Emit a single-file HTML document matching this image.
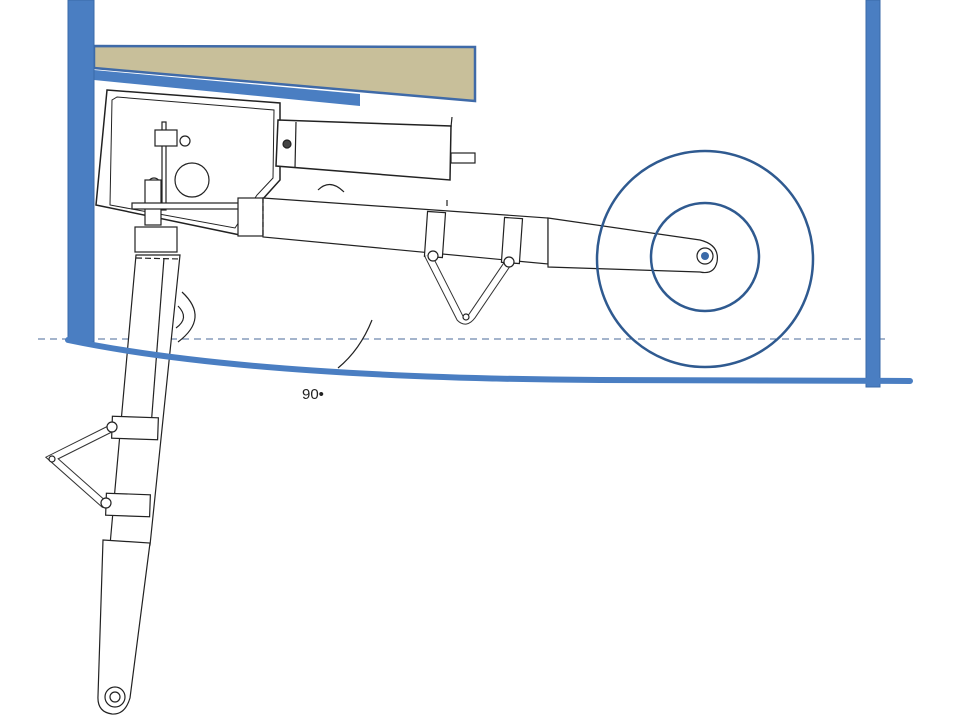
<!DOCTYPE html>
<html><head><meta charset="utf-8"><style>html,body{margin:0;padding:0;background:#fff}svg{display:block}</style></head>
<body>
<svg width="960" height="720" viewBox="0 0 960 720" xmlns="http://www.w3.org/2000/svg">
<g fill="none" stroke="#222" stroke-width="1.2">
<!-- tan plank -->
<polygon points="94,46 475,47 475,101 94,68" fill="#c8bf9a" stroke="#3f6aa8" stroke-width="2.5"/>
<polygon points="94,70 360,94 360,106 94,80" fill="#4a7ec2" stroke="none"/>
<!-- dashed line -->
<line x1="38" y1="339" x2="885" y2="339" stroke="#4a6a9a" stroke-width="1" stroke-dasharray="7,5"/>
<!-- box housing -->
<polygon points="107,90 280,103 280,180 262,200 240,235 96,205" fill="#fff" stroke-width="1.5"/>
<path d="M117,97 L274,110 L273,178 L257,195 L235,228 L110,205 L112,100 Z" stroke-width="1"/>
<circle cx="192" cy="180" r="17"/>
<!-- actuator cylinder -->
<polygon points="278,120 451,126 450,180 276,166" fill="#fff" stroke-width="1.5"/>
<line x1="296" y1="122" x2="295" y2="168"/>
<circle cx="287" cy="144" r="4" fill="#444"/>
<rect x="451" y="153" width="24" height="10"/>
<line x1="452" y1="117" x2="451" y2="127"/>
<path d="M318,190 Q330,178 344,192"/>
<!-- linkage in box -->
<rect x="162" y="122" width="4" height="88"/>
<rect x="155" y="130" width="22" height="16" fill="#fff"/>
<circle cx="185" cy="141" r="5" fill="#fff"/>
<circle cx="154" cy="184" r="6" fill="#fff"/>
<rect x="145" y="180" width="16" height="45" fill="#fff"/>
<rect x="132" y="203" width="118" height="6" fill="#fff"/>
<rect x="238" y="198" width="25" height="38" fill="#fff"/>
<rect x="135" y="227" width="42" height="25" fill="#fff"/>
<!-- horizontal strut -->
<polygon points="263,198 548,218 548,264 263,237" fill="#fff"/>
<line x1="263" y1="198" x2="263" y2="238" stroke-dasharray="5,3"/>
<line x1="447" y1="200" x2="447" y2="206"/>
<rect x="426" y="212" width="18" height="45" transform="rotate(4 435 234)" fill="#fff"/>
<rect x="503" y="218" width="18" height="45" transform="rotate(4 512 240)" fill="#fff"/>
<path d="M548,218 L700,240 Q720,245 717,262 Q714,275 700,272 L548,267 Z" fill="#fff"/>
<circle cx="705" cy="256" r="8"/>
<circle cx="705" cy="256" r="4" fill="#3a6aa8" stroke="none"/>
<path d="M428,255 L460,318 Q466,324 472,316 L510,260" stroke-width="8" stroke="#333"/>
<path d="M428,255 L460,318 Q466,324 472,316 L510,260" stroke-width="6" stroke="#fff"/>
<circle cx="433" cy="256" r="5" fill="#fff"/><circle cx="509" cy="262" r="5" fill="#fff"/><circle cx="466" cy="317" r="3" fill="#fff"/>
<!-- angle arcs -->
<path d="M182,292 Q210,318 178,342"/>
<path d="M178,306 Q190,318 176,328"/>
<path d="M372,320 Q360,350 338,368"/>
<!-- vertical leg -->
<polygon points="136,255 180,255 150,545 110,545" fill="#fff"/>
<line x1="136" y1="258" x2="180" y2="259" stroke-dasharray="6,3"/>
<line x1="164" y1="258" x2="150" y2="440" />
<rect x="112" y="417" width="46" height="22" transform="rotate(2 135 428)" fill="#fff"/>
<rect x="106" y="494" width="44" height="22" transform="rotate(2 128 505)" fill="#fff"/>
<path d="M112,428 L52,458 L105,505" stroke-width="8" stroke="#333"/>
<path d="M112,428 L52,458 L105,505" stroke-width="6" stroke="#fff"/>
<circle cx="112" cy="427" r="5" fill="#fff"/><circle cx="52" cy="459" r="3" fill="#fff"/><circle cx="106" cy="503" r="5" fill="#fff"/>
<path d="M103,540 L150,543 L130,698 Q125,715 112,714 Q97,712 98,696 Z" fill="#fff"/>
<circle cx="115" cy="697" r="10"/><circle cx="115" cy="697" r="5"/>
</g>
<!-- blue frame -->
<rect x="68" y="0" width="26" height="342" fill="#4a7ec2" stroke="#3a6aa8"/>
<rect x="866" y="0" width="14" height="387" fill="#4a7ec2" stroke="#3a6aa8"/>
<path d="M68,340 Q250,378 600,380 L910,381" fill="none" stroke="#4a7ec2" stroke-width="6" stroke-linecap="round"/>
<!-- wheel -->
<circle cx="705" cy="259" r="108" fill="none" stroke="#2f5a90" stroke-width="2.5"/>
<circle cx="705" cy="257" r="54" fill="none" stroke="#2f5a90" stroke-width="2.5"/>
<text x="302" y="399" font-family="Liberation Sans, sans-serif" font-size="15" fill="#222">90•</text>
</svg>
</body></html>
